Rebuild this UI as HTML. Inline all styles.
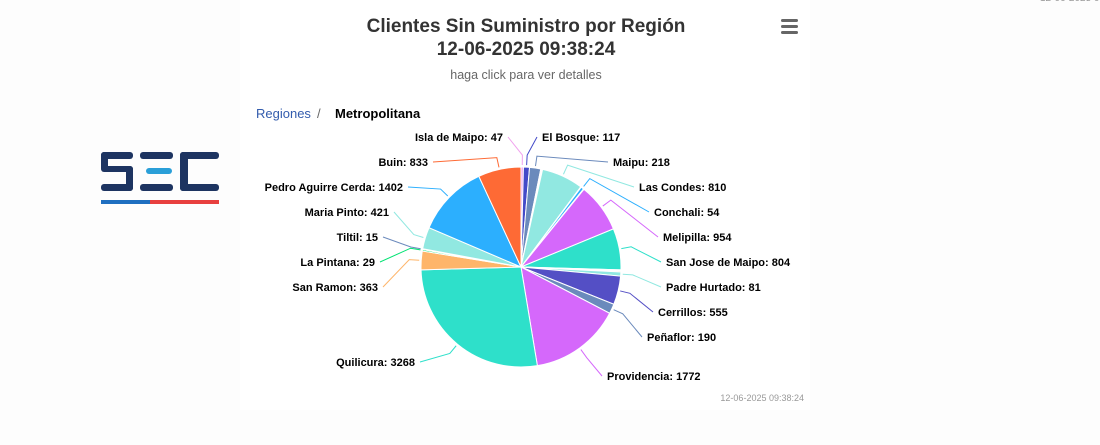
<!DOCTYPE html>
<html><head><meta charset="utf-8"><style>
html,body{margin:0;padding:0;background:#fdfdfd;width:1100px;height:445px;overflow:hidden;font-family:"Liberation Sans","DejaVu Sans",sans-serif}
#c{position:absolute;left:240px;top:0;width:570px;height:410px;background:#fff}
</style></head><body>
<div id="c"></div>
<div style="position:absolute;left:1040px;top:-7px;font-size:10px;color:#999;white-space:nowrap">12-06-2025 09:38</div>
<svg style="position:absolute;left:0;top:0" width="1100" height="445" id="s" font-family="Liberation Sans, DejaVu Sans, sans-serif">
<text x="526" y="32" text-anchor="middle" font-size="19" font-weight="bold" fill="#333">Clientes Sin Suministro por Región</text>
<text x="526" y="55" text-anchor="middle" font-size="19" font-weight="bold" fill="#333">12-06-2025 09:38:24</text>
<text x="526" y="79" text-anchor="middle" font-size="12.5" fill="#666">haga click para ver detalles</text>
<rect x="781" y="19" width="17" height="3" rx="1.5" fill="#666"/><rect x="781" y="25" width="17" height="3" rx="1.5" fill="#666"/><rect x="781" y="31" width="17" height="3" rx="1.5" fill="#666"/>
<text x="256" y="118" font-size="13" fill="#335cad">Regiones</text>
<text x="317" y="118" font-size="13" fill="#666">/</text>
<text x="335" y="118" font-size="13" font-weight="bold" fill="#000">Metropolitana</text>
<text x="804" y="401" text-anchor="end" font-size="9" fill="#999">12-06-2025 09:38:24</text>
<g fill="#1d3461">
<rect x="101" y="152" width="32" height="7" rx="3"/>
<rect x="101" y="152" width="7" height="19" rx="3"/>
<rect x="101" y="166" width="32" height="6" rx="3"/>
<rect x="126" y="166" width="7" height="25" rx="3"/>
<rect x="101" y="184" width="32" height="7" rx="3"/>
<rect x="140" y="152" width="33" height="7" rx="3"/>
<rect x="140" y="184" width="33" height="7" rx="3"/>
<rect x="180" y="152" width="39" height="7" rx="3"/>
<rect x="180" y="152" width="8" height="39" rx="3"/>
<rect x="180" y="184" width="39" height="7" rx="3"/>
</g>
<rect x="146" y="168" width="26" height="6" rx="3" fill="#2a9fd8"/>
<rect x="101" y="200" width="49" height="4" fill="#1f6fc0"/>
<rect x="150" y="200" width="69" height="4" fill="#e8403f"/>
<g id="pie"></g>
</svg>
<script>
var cx=521,cy=267,r=100;
var d=[
["Isla de Maipo",47,"#f0a0ee",503,137,"L"],
["El Bosque",117,"#434ac8",542,137,"R"],
["Maipu",218,"#6b8abc",613,162,"R"],
["",20,"#fa4b42"],["",15,"#fe6a35"],
["Las Condes",810,"#91e8e1",639,187,"R"],
["",12,"#91e8e1"],
["Conchali",54,"#2caffe",654,212,"R"],
["",12,"#544fc5"],
["Melipilla",954,"#d568fb",663,237,"R"],
["San Jose de Maipo",804,"#2ee0ca",666,262,"R"],
["",20,"#fa4b42"],["",20,"#feb56a"],
["Padre Hurtado",81,"#91e8e1",666,287,"R"],
["Cerrillos",555,"#544fc5",658,312,"R"],
["Peñaflor",190,"#6b8abc",647,337,"R"],
["Providencia",1772,"#d568fb",607,376,"R"],
["Quilicura",3268,"#2ee0ca",415,362,"L"],
["San Ramon",363,"#feb56a",378,287,"L"],
["La Pintana",29,"#00e272",375,262,"L"],
["Tiltil",15,"#6b8abc",378,237,"L"],
["Maria Pinto",421,"#91e8e1",389,212,"L"],
["Pedro Aguirre Cerda",1402,"#2caffe",403,187,"L"],
["Buin",833,"#fe6a35",428,162,"L"]];
var tot=0;d.forEach(function(e){tot+=e[1]});
var a=-Math.PI/2,h="";
d.forEach(function(e){
 var da=e[1]/tot*2*Math.PI,b=a+da,m=a+da/2;
 var x1=cx+r*Math.cos(a),y1=cy+r*Math.sin(a),x2=cx+r*Math.cos(b),y2=cy+r*Math.sin(b);
 h+='<path d="M'+cx+' '+cy+'L'+x1+' '+y1+'A'+r+' '+r+' 0 '+(da>Math.PI?1:0)+' 1 '+x2+' '+y2+'Z" fill="'+e[2]+'" stroke="#fff" stroke-width="1"/>';
 if(e[0]){
  var px=cx+(r+2)*Math.cos(m),py=cy+(r+2)*Math.sin(m),qx=cx+(r+12)*Math.cos(m),qy=cy+(r+12)*Math.sin(m);
  var ly=e[4],lx=e[5]=="R"?e[3]-5:e[3]+5;
  h+='<polyline points="'+px+','+py+' '+qx+','+qy+' '+lx+','+ly+'" fill="none" stroke="'+e[2]+'" stroke-width="1"/>';
  h+='<text x="'+e[3]+'" y="'+(e[4]+4)+'" font-size="11" font-weight="bold" fill="#000" text-anchor="'+(e[5]=="R"?"start":"end")+'">'+e[0]+': '+e[1]+'</text>';
 }
 a=b;
});
document.getElementById("pie").innerHTML=h;
</script>
</body></html>
